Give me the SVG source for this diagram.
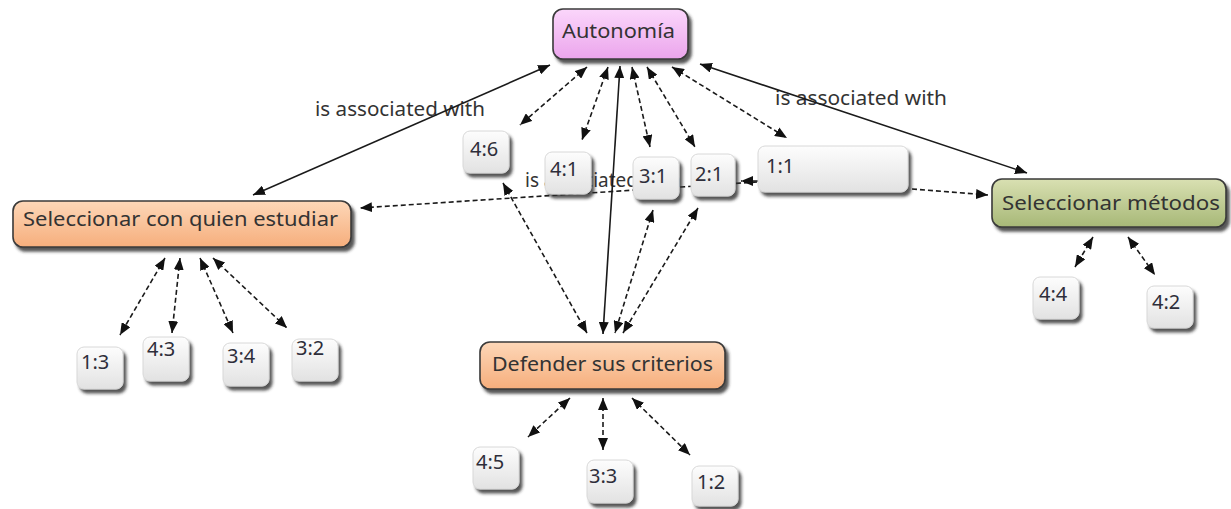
<svg xmlns="http://www.w3.org/2000/svg" width="1231" height="509" viewBox="0 0 1231 509">
<defs>
<style>
.t{font-family:"Noto Sans","Open Sans",sans-serif;fill:#333}
.nl{font-size:19px}
.ql{font-size:20px;fill:#2e2e3a}
.lbl{font-family:"Noto Sans","Open Sans",sans-serif;font-size:19px;fill:#333}
.sol{stroke:#1a1a1a;stroke-width:1.6;fill:none}
.dsh{stroke:#1a1a1a;stroke-width:1.6;fill:none;stroke-dasharray:5 3}
.big{stroke:#3a3a3a;stroke-width:1.6}
.q{fill:url(#gq);stroke:#d8d8d8;stroke-width:1}
</style>
<linearGradient id="gp" x1="0" y1="0" x2="0" y2="1"><stop offset="0" stop-color="#fbd6fb"/><stop offset="1" stop-color="#eba5ec"/></linearGradient>
<linearGradient id="go" x1="0" y1="0" x2="0" y2="1"><stop offset="0" stop-color="#fdd7b8"/><stop offset="1" stop-color="#f6ae7c"/></linearGradient>
<linearGradient id="gg" x1="0" y1="0" x2="0" y2="1"><stop offset="0" stop-color="#d9e0b2"/><stop offset="1" stop-color="#a7b877"/></linearGradient>
<linearGradient id="gq" x1="0" y1="0" x2="0" y2="1"><stop offset="0" stop-color="#fdfdfd"/><stop offset="1" stop-color="#e2e2e2"/></linearGradient>
<filter id="sh" x="-20%" y="-20%" width="150%" height="160%"><feDropShadow dx="3" dy="4" stdDeviation="1.5" flood-color="#2a2a2a" flood-opacity="0.8"/></filter>
<marker id="ah" viewBox="0 0 12 10" markerWidth="12" markerHeight="10" refX="12" refY="5" orient="auto-start-reverse" markerUnits="userSpaceOnUse"><path d="M0,0 L12,5 L0,10 z" fill="#111"/></marker>
</defs>

<g id="labels">
<text class="lbl" x="315" y="116" textLength="170" lengthAdjust="spacingAndGlyphs">is associated with</text>
<text class="lbl" x="775" y="105" textLength="172" lengthAdjust="spacingAndGlyphs">is associated with</text>
<text class="lbl" x="525" y="187" textLength="156" lengthAdjust="spacingAndGlyphs">is associated with</text>
</g>

<g id="connectors">
<path class="sol" d="M550,65 L253,195" marker-start="url(#ah)" marker-end="url(#ah)"/>
<path class="sol" d="M700,64 L1027,173" marker-start="url(#ah)" marker-end="url(#ah)"/>
<path class="sol" d="M620,66 L603,334" marker-start="url(#ah)" marker-end="url(#ah)"/>
<path class="dsh" d="M587,67 L520,125" marker-start="url(#ah)" marker-end="url(#ah)"/>
<path class="dsh" d="M608,67 L582,140" marker-start="url(#ah)" marker-end="url(#ah)"/>
<path class="dsh" d="M632,67 L650,147" marker-start="url(#ah)" marker-end="url(#ah)"/>
<path class="dsh" d="M647,67 L695,147" marker-start="url(#ah)" marker-end="url(#ah)"/>
<path class="dsh" d="M672,67 L787,138" marker-start="url(#ah)" marker-end="url(#ah)"/>
<path class="dsh" d="M503,183 L587,333" marker-start="url(#ah)" marker-end="url(#ah)"/>
<path class="dsh" d="M653,210 L615,333" marker-start="url(#ah)" marker-end="url(#ah)"/>
<path class="dsh" d="M698,208 L623,333" marker-start="url(#ah)" marker-end="url(#ah)"/>
<path class="dsh" d="M165,258 L120,335" marker-start="url(#ah)" marker-end="url(#ah)"/>
<path class="dsh" d="M180,258 L172,333" marker-start="url(#ah)" marker-end="url(#ah)"/>
<path class="dsh" d="M200,258 L233,333" marker-start="url(#ah)" marker-end="url(#ah)"/>
<path class="dsh" d="M213,258 L287,328" marker-start="url(#ah)" marker-end="url(#ah)"/>
<path class="dsh" d="M1093,237 L1075,267" marker-start="url(#ah)" marker-end="url(#ah)"/>
<path class="dsh" d="M1128,237 L1155,275" marker-start="url(#ah)" marker-end="url(#ah)"/>
<path class="dsh" d="M570,398 L528,437" marker-start="url(#ah)" marker-end="url(#ah)"/>
<path class="dsh" d="M603,398 L603,450" marker-start="url(#ah)" marker-end="url(#ah)"/>
<path class="dsh" d="M632,398 L690,455" marker-start="url(#ah)" marker-end="url(#ah)"/>
<path class="dsh" d="M912,189 L988,195" marker-end="url(#ah)"/>
<path class="dsh" d="M757,182 L360,208" marker-end="url(#ah)"/>
<path class="dsh" d="M758,181 L741,181" marker-end="url(#ah)"/>
</g>

<g id="n-autonomia"><rect x="553" y="9" width="135" height="50" rx="10" fill="url(#gp)" class="big" filter="url(#sh)"/><text class="t nl" x="562" y="38" textLength="113" lengthAdjust="spacingAndGlyphs">Autonomía</text></g>
<g id="n-scqe"><rect x="13" y="201" width="338" height="46" rx="10" fill="url(#go)" class="big" filter="url(#sh)"/><text class="t nl" x="23" y="226" textLength="315" lengthAdjust="spacingAndGlyphs">Seleccionar con quien estudiar</text></g>
<g id="n-sm"><rect x="992" y="179" width="234" height="48" rx="10" fill="url(#gg)" class="big" filter="url(#sh)"/><text class="t nl" x="1002" y="210" textLength="218" lengthAdjust="spacingAndGlyphs">Seleccionar métodos</text></g>
<g id="n-dsc"><rect x="480" y="342" width="245" height="47" rx="10" fill="url(#go)" class="big" filter="url(#sh)"/><text class="t nl" x="492" y="371" textLength="221" lengthAdjust="spacingAndGlyphs">Defender sus criterios</text></g>

<g id="q-4-6"><rect class="q" x="463" y="131" width="46" height="42" rx="7" filter="url(#sh)"/><text class="t ql" x="470" y="156">4:6</text></g>
<g id="q-4-1"><rect class="q" x="545" y="152" width="46" height="42" rx="7" filter="url(#sh)"/><text class="t ql" x="550" y="176">4:1</text></g>
<g id="q-3-1"><rect class="q" x="633" y="157" width="46" height="42" rx="7" filter="url(#sh)"/><text class="t ql" x="639" y="183">3:1</text></g>
<g id="q-2-1"><rect class="q" x="691" y="154" width="44" height="42" rx="7" filter="url(#sh)"/><text class="t ql" x="695" y="181">2:1</text></g>
<g id="q-1-1"><rect class="q" x="758" y="146" width="150" height="46" rx="7" filter="url(#sh)"/><text class="t ql" x="766" y="173">1:1</text></g>
<g id="q-1-3"><rect class="q" x="77" y="347" width="46" height="42" rx="7" filter="url(#sh)"/><text class="t ql" x="81" y="369">1:3</text></g>
<g id="q-4-3"><rect class="q" x="143" y="337" width="46" height="44" rx="7" filter="url(#sh)"/><text class="t ql" x="147" y="356">4:3</text></g>
<g id="q-3-4"><rect class="q" x="223" y="343" width="46" height="43" rx="7" filter="url(#sh)"/><text class="t ql" x="227" y="363">3:4</text></g>
<g id="q-3-2"><rect class="q" x="292" y="339" width="46" height="42" rx="7" filter="url(#sh)"/><text class="t ql" x="296" y="355">3:2</text></g>
<g id="q-4-4"><rect class="q" x="1033" y="277" width="46" height="42" rx="7" filter="url(#sh)"/><text class="t ql" x="1039" y="301">4:4</text></g>
<g id="q-4-2"><rect class="q" x="1147" y="286" width="46" height="42" rx="7" filter="url(#sh)"/><text class="t ql" x="1152" y="309">4:2</text></g>
<g id="q-4-5"><rect class="q" x="473" y="447" width="46" height="42" rx="7" filter="url(#sh)"/><text class="t ql" x="476" y="469">4:5</text></g>
<g id="q-3-3"><rect class="q" x="587" y="460" width="46" height="43" rx="7" filter="url(#sh)"/><text class="t ql" x="589" y="483">3:3</text></g>
<g id="q-1-2"><rect class="q" x="692" y="466" width="46" height="40" rx="7" filter="url(#sh)"/><text class="t ql" x="697" y="489">1:2</text></g>
</svg>
